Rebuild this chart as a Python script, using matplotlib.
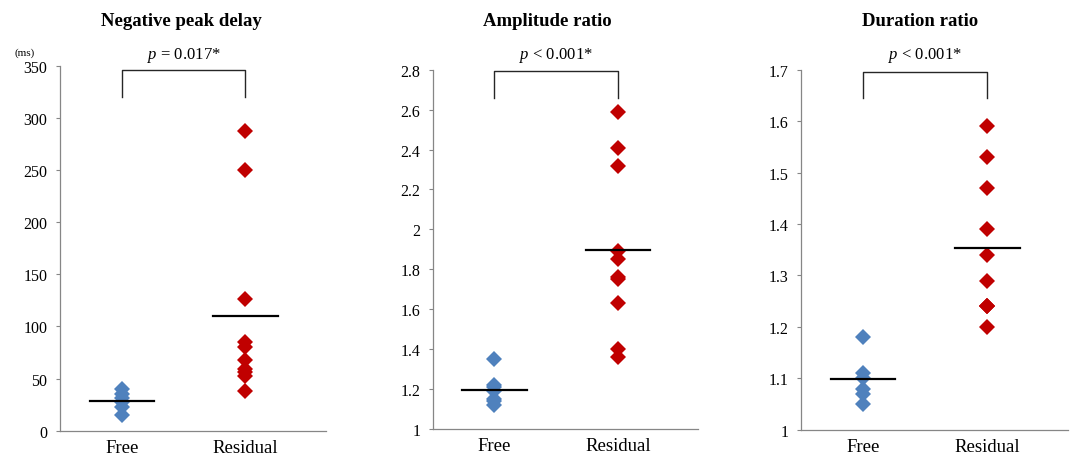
import matplotlib
matplotlib.use("Agg")
import matplotlib.pyplot as plt
import numpy as np
from matplotlib.transforms import blended_transform_factory

# ---- data ----
groups = ["Free", "Residual"]
titles = ["Negative peak delay", "Amplitude ratio", "Duration ratio"]
p_labels = ["= 0.017*", "< 0.001*", "< 0.001*"]

delay_free = [40, 35, 31, 28, 23, 15]
delay_residual = [287, 250, 126, 85, 80, 68, 59, 56, 52, 38]

amp_free = [1.35, 1.22, 1.21, 1.19, 1.15, 1.14, 1.12]
amp_residual = [2.59, 2.41, 2.32, 1.89, 1.85, 1.76, 1.75, 1.63, 1.40, 1.36]

dur_free = [1.18, 1.11, 1.10, 1.08, 1.07, 1.05]
dur_residual = [1.59, 1.53, 1.47, 1.39, 1.34, 1.29, 1.24, 1.24, 1.24, 1.20]

y_limits = [(0, 350), (1.0, 2.8), (1.0, 1.7)]
y_ticks = [
    [0, 50, 100, 150, 200, 250, 300, 350],
    [1.0, 1.2, 1.4, 1.6, 1.8, 2.0, 2.2, 2.4, 2.6, 2.8],
    [1.0, 1.1, 1.2, 1.3, 1.4, 1.5, 1.6, 1.7],
]
y_ticklabels = [
    ["0", "50", "100", "150", "200", "250", "300", "350"],
    ["1", "1.2", "1.4", "1.6", "1.8", "2", "2.2", "2.4", "2.6", "2.8"],
    ["1", "1.1", "1.2", "1.3", "1.4", "1.5", "1.6", "1.7"],
]
datasets = [
    (delay_free, delay_residual),
    (amp_free, amp_residual),
    (dur_free, dur_residual),
]

# ---- style ----
W, H = 1072, 456
plt.rcParams["font.family"] = ["Liberation Serif", "DejaVu Serif"]
plt.rcParams["mathtext.fontset"] = "custom"
plt.rcParams["mathtext.it"] = "Liberation Serif:italic"
plt.rcParams["mathtext.rm"] = "Liberation Serif"
fig = plt.figure(figsize=(W / 100, H / 100), dpi=100)

# axes rectangles in pixel coords (left, top, right, bottom)
rects_px = [
    (60, 66.7, 325.7, 431.7),
    (432.7, 70.7, 698.3, 430.0),
    (801, 70.7, 1068, 430.7),
]
title_x_px = [181, 547, 920]
bracket_top = [0.989, 0.995, 0.995]
bracket_bot = [0.913, 0.922, 0.921]

blue = "#4F81BD"
red = "#C00000"
axis_gray = "#868686"

for i in range(3):
    l, t, r, b = rects_px[i]
    ax = fig.add_axes([l / W, 1 - b / H, (r - l) / W, (b - t) / H])
    free, resid = datasets[i]
    x_pos = [1, 2]

    ax.plot([x_pos[0]] * len(free), free, linestyle="none", marker="D",
            markersize=8.6, color=blue, markeredgewidth=0, zorder=3)
    ax.plot([x_pos[1]] * len(resid), resid, linestyle="none", marker="D",
            markersize=8.6, color=red, markeredgewidth=0, zorder=3)

    for xp, vals in zip(x_pos, (free, resid)):
        m = np.mean(vals)
        ax.plot([xp - 0.26, xp + 0.26], [m, m], color="black", lw=1.6, zorder=4)

    ax.set_xlim(0.5, 2.65)
    ax.set_ylim(*y_limits[i])
    ax.set_yticks(y_ticks[i])
    ax.set_yticklabels(y_ticklabels[i])
    ax.set_xticks(x_pos)
    ax.set_xticklabels(groups, fontsize=13.5)
    ax.tick_params(axis="x", length=0, pad=6)
    ax.tick_params(axis="y", length=3.0, width=0.8, color=axis_gray,
                   labelsize=11.5, pad=6)
    for s in ("top", "right"):
        ax.spines[s].set_visible(False)
    for s in ("left", "bottom"):
        ax.spines[s].set_color(axis_gray)
        ax.spines[s].set_linewidth(0.9)

    # significance bracket
    tr = blended_transform_factory(ax.transData, ax.transAxes)
    ax.plot([1, 1, 2, 2], [bracket_bot[i], bracket_top[i], bracket_top[i], bracket_bot[i]],
            color="#262626", lw=1.0, transform=tr, clip_on=False, zorder=5)
    trf = blended_transform_factory(ax.transData, fig.transFigure)
    ax.text(1.5, 1 - 56 / H, r"$p$ " + p_labels[i], transform=trf,
            ha="center", va="center", fontsize=12)

    fig.text(title_x_px[i] / W, 1 - 21 / H, titles[i], ha="center", va="center",
             fontsize=13.5, fontweight="bold")

fig.text(25 / W, 1 - 53 / H, "(ms)", ha="center", va="center", fontsize=8)

fig.savefig("out.png", dpi=100)
